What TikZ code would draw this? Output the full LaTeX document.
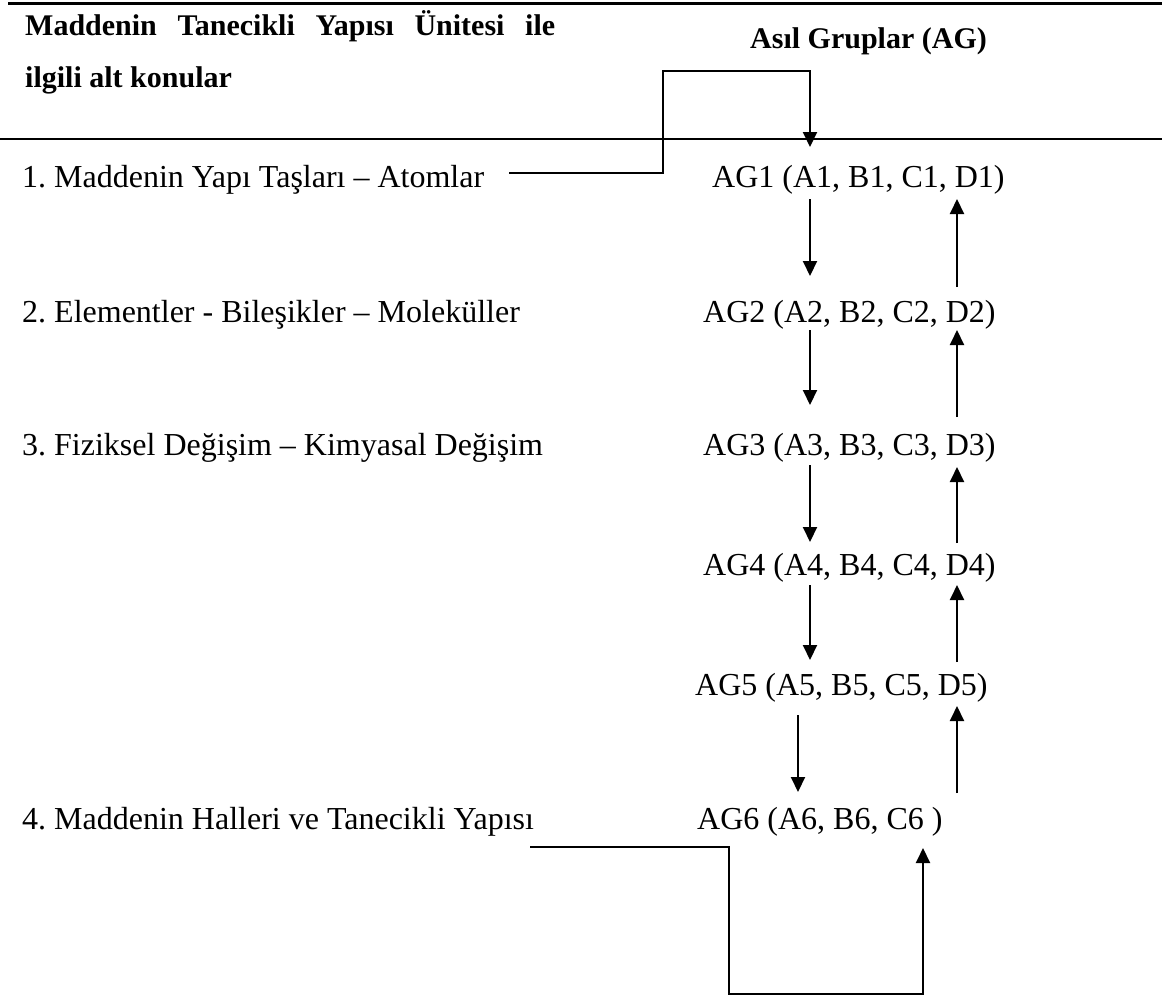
\documentclass[tikz,border=0pt]{standalone}
\usepackage{fontspec}
\setmainfont{Liberation Serif}
\usetikzlibrary{arrows.meta,calc}
\frenchspacing
\begin{document}
\begin{tikzpicture}[x=1pt,y=-1pt,
  txt/.style={anchor=base west,inner sep=0pt,font=\fontsize{32}{38}\selectfont},
  hdr/.style={anchor=base west,inner sep=0pt,font=\fontsize{30}{36}\selectfont\bfseries},
  rulethin/.style={line width=2pt},
  rulethick/.style={line width=3pt},
  arr/.style={line width=2pt,-{Triangle[length=15pt,width=14pt]}}]
\useasboundingbox (0,0) rectangle (1162,1002);
% table rules
\draw[rulethick] (8,3) -- (1162,3);
\draw[rulethin] (0,139) -- (1162,139);
% headers
\node[hdr] (h1) at (25,35) {\makebox[530pt][s]{Maddenin Tanecikli Yapısı Ünitesi ile}};
\node[hdr] (h2) at (25,87) {ilgili alt konular};
\node[hdr] (h3) at (750,48) {Asıl Gruplar (AG)};
% topics
\node[txt] (t1) at (22,187) {1. Maddenin Yapı Taşları – Atomlar};
\node[txt] (t2) at (22,322) {2. Elementler - Bileşikler – Moleküller};
\node[txt] (t3) at (22,455) {3. Fiziksel Değişim – Kimyasal Değişim};
\node[txt] (t4) at (22,829) {4. Maddenin Halleri ve Tanecikli Yapısı};
% groups
\node[txt] (g1) at (712,187) {AG1 (A1, B1, C1, D1)};
\node[txt] (g2) at (703,322) {AG2 (A2, B2, C2, D2)};
\node[txt] (g3) at (703,455) {AG3 (A3, B3, C3, D3)};
\node[txt] (g4) at (703,575) {AG4 (A4, B4, C4, D4)};
\node[txt] (g5) at (695,695) {AG5 (A5, B5, C5, D5)};
\node[txt] (g6) at (697,829) {AG6 (A6, B6, C6 )};
% columns
\coordinate (cL) at (810,0);
\coordinate (cL5) at (798,0);
\coordinate (cR) at (957,0);
\coordinate (cB) at (923,0);
% down arrows
\draw[arr] ($(g1.base -| cL)+(0,12)$) -- ($(g2.base -| cL)+(0,-46)$);
\draw[arr] ($(g2.base -| cL)+(0,8)$) -- ($(g3.base -| cL)+(0,-50)$);
\draw[arr] ($(g3.base -| cL)+(0,10)$) -- ($(g4.base -| cL)+(0,-33)$);
\draw[arr] ($(g4.base -| cL)+(0,10)$) -- ($(g5.base -| cL)+(0,-35)$);
\draw[arr] ($(g5.base -| cL5)+(0,20)$) -- ($(g6.base -| cL5)+(0,-37)$);
% up arrows
\draw[arr] ($(g2.base -| cR)+(0,-35)$) -- ($(g1.base -| cR)+(0,12)$);
\draw[arr] ($(g3.base -| cR)+(0,-38)$) -- ($(g2.base -| cR)+(0,8)$);
\draw[arr] ($(g4.base -| cR)+(0,-32)$) -- ($(g3.base -| cR)+(0,12)$);
\draw[arr] ($(g5.base -| cR)+(0,-33)$) -- ($(g4.base -| cR)+(0,10)$);
\draw[arr] ($(g6.base -| cR)+(0,-36)$) -- ($(g5.base -| cR)+(0,11)$);
% connectors from topics
\draw[arr] ($(t1.base east)+(25,-14)$) -| (663,71) -| ($(g1.base -| cL)+(0,-40)$);
\draw[arr] ($(t4.base east)+(-4,18)$) -| (729,994) -| ($(g6.base -| cB)+(0,19)$);
\end{tikzpicture}
\end{document}
